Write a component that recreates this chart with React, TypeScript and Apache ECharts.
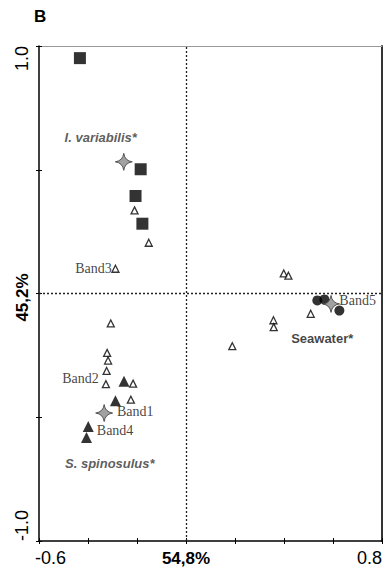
import React, { useEffect, useRef } from "react";
import * as echarts from "echarts";

// ---- data ----
const squares = [
  [-0.433, 0.951],
  [-0.185, 0.502],
  [-0.206, 0.394],
  [-0.178, 0.282],
];
const openTriangles = [
  [-0.21, 0.336],
  [-0.152, 0.205],
  [-0.288, 0.1],
  [-0.307, -0.121],
  [-0.322, -0.24],
  [-0.318, -0.271],
  [-0.324, -0.313],
  [-0.327, -0.366],
  [-0.216, -0.364],
  [-0.225, -0.429],
  [0.399, 0.081],
  [0.418, 0.072],
  [0.509, -0.082],
  [0.357, -0.108],
  [0.358, -0.136],
  [0.189, -0.213],
];
const filledTriangles = [
  [-0.253, -0.355],
  [-0.288, -0.433],
  [-0.399, -0.537],
  [-0.406, -0.582],
];
const circles = [
  [0.536, -0.028],
  [0.565, -0.024],
  [0.626, -0.069],
];
const centroids = [
  [-0.254, 0.532],
  [-0.334, -0.483],
  [0.592, -0.042],
];

const speciesLabels = ["I. variabilis*", "Seawater*", "S. spinosulus*"];
const speciesX = [-0.348, 0.556, -0.311];
const speciesY = [0.632, -0.182, -0.688];

const bandLabels = ["Band1", "Band2", "Band3", "Band4", "Band5"];
const bandX = [-0.282, -0.356, -0.303, -0.364, 0.626];
const bandY = [-0.478, -0.344, 0.101, -0.555, -0.028];
const bandSide = ["right", "left", "left", "right", "right"];

const xTickValues = [-0.6, 0, 0.8];
const xTickTexts = ["-0.6", "54,8%", "0.8"];
const yTickValues = [-1, 0, 1];
const yTickTexts = ["-1.0", "45,2%", "1.0"];
const panelLetter = "B";

const STAR = "path://M50,0 Q56,44 100,50 Q56,56 50,100 Q44,56 0,50 Q44,44 50,0 Z";
const SANS = "Liberation Sans, Arial, sans-serif";
const SERIF = "Liberation Serif, Times New Roman, serif";

export default function App() {
  const ref = useRef<HTMLDivElement>(null);
  useEffect(() => {
    document.body.style.margin = "0";
    const chart = echarts.init(ref.current!, null, { renderer: "svg" });
    const axisBase = {
      type: "value" as const,
      splitLine: { show: false },
      axisLabel: { show: false },
    };
    const option: any = {
      animation: false,
      backgroundColor: "#fff",
      grid: { left: 39, top: 46, right: 2, bottom: 32, containLabel: false },
      xAxis: [
        {
          ...axisBase,
          position: "bottom",
          min: -0.6,
          max: 0.8,
          interval: 0.2,
          axisLine: { onZero: false, lineStyle: { color: "#000", width: 1.5 } },
          axisTick: { show: true, inside: false, length: 3, lineStyle: { color: "#000", width: 1 } },
        },
        {
          ...axisBase,
          position: "bottom",
          min: -0.6,
          max: 0.8,
          interval: 0.2,
          axisLine: { show: false, onZero: false },
          axisTick: { show: true, inside: true, length: 3, lineStyle: { color: "#000", width: 1 } },
        },
        {
          ...axisBase,
          position: "top",
          min: -0.6,
          max: 0.8,
          axisLine: { onZero: false, lineStyle: { color: "#999", width: 1 } },
          axisTick: { show: false },
        },
      ],
      yAxis: [
        {
          ...axisBase,
          position: "left",
          min: -1,
          max: 1,
          interval: 0.5,
          axisLine: { onZero: false, lineStyle: { color: "#000", width: 1.5 } },
          axisTick: { show: true, inside: false, length: 3, lineStyle: { color: "#000", width: 1 } },
        },
        {
          ...axisBase,
          position: "left",
          min: -1,
          max: 1,
          interval: 0.5,
          axisLine: { show: false, onZero: false },
          axisTick: { show: true, inside: true, length: 3, lineStyle: { color: "#000", width: 1 } },
        },
        {
          ...axisBase,
          position: "right",
          min: -1,
          max: 1,
          axisLine: { onZero: false, lineStyle: { color: "#333", width: 2 } },
          axisTick: { show: false },
        },
      ],
      series: [
        {
          type: "scatter",
          name: "guides",
          data: [],
          silent: true,
          markLine: {
            silent: true,
            symbol: "none",
            label: { show: false },
            lineStyle: { type: [2, 2], color: "#222", width: 1.3 },
            data: [{ xAxis: 0 }, { yAxis: 0 }],
          },
        },
        {
          type: "scatter",
          name: "squares",
          symbol: "rect",
          symbolSize: 12,
          itemStyle: { color: "#000" },
          data: squares,
        },
        {
          type: "scatter",
          name: "openTriangles",
          symbol: "triangle",
          symbolSize: 7,
          itemStyle: { color: "#fff", borderColor: "#000", borderWidth: 1.3 },
          data: openTriangles,
        },
        {
          type: "scatter",
          name: "filledTriangles",
          symbol: "triangle",
          symbolSize: 11,
          itemStyle: { color: "#000" },
          data: filledTriangles,
        },
        {
          type: "scatter",
          name: "circles",
          symbol: "circle",
          symbolSize: 10,
          itemStyle: { color: "#000" },
          data: circles,
        },
        {
          type: "scatter",
          name: "centroids",
          symbol: STAR,
          symbolSize: 17,
          itemStyle: { color: "#8a8a8a", borderColor: "#3a3a3a", borderWidth: 1 },
          data: centroids,
        },
        {
          type: "scatter",
          name: "species",
          symbolSize: 0,
          silent: true,
          data: speciesLabels.map((t, i) => ({
            value: [speciesX[i], speciesY[i]],
            label: {
              show: true,
              position: "inside",
              formatter: t,
              fontFamily: SANS,
              fontSize: 13,
              fontWeight: "bold",
              fontStyle: i === 1 ? "normal" : "italic",
              color: i === 1 ? "#111" : "#333",
            },
          })),
        },
        {
          type: "scatter",
          name: "bands",
          symbolSize: 0,
          silent: true,
          data: bandLabels.map((t, i) => ({
            value: [bandX[i], bandY[i]],
            label: {
              show: true,
              position: bandSide[i],
              distance: 0,
              formatter: t,
              fontFamily: SERIF,
              fontSize: 14,
              color: "#111",
            },
          })),
        },
      ],
    };
    chart.setOption(option);

    const graphics: any[] = [
      {
        type: "text",
        x: 34,
        y: 16,
        style: {
          text: panelLetter,
          font: `bold 17px ${SANS}`,
          fill: "#000",
          textAlign: "left",
          textVerticalAlign: "middle",
        },
      },
    ];
    xTickValues.forEach((v, i) => {
      const px = chart.convertToPixel({ xAxisIndex: 0 }, v) as number;
      const align = i === 0 ? "left" : i === xTickValues.length - 1 ? "right" : "center";
      const isPct = xTickTexts[i].includes("%");
      graphics.push({
        type: "text",
        x: i === 0 ? px - 4 : px,
        y: 558,
        style: {
          text: xTickTexts[i],
          font: isPct ? `bold 17px ${SANS}` : `18px ${SANS}`,
          fill: "#000",
          textAlign: align,
          textVerticalAlign: "middle",
        },
      });
    });
    yTickValues.forEach((v, i) => {
      const py = chart.convertToPixel({ yAxisIndex: 0 }, v) as number;
      const align = i === 0 ? "left" : i === yTickValues.length - 1 ? "right" : "center";
      const isPct = yTickTexts[i].includes("%");
      graphics.push({
        type: "text",
        x: 22,
        y: isPct ? py + 4 : py,
        rotation: Math.PI / 2,
        style: {
          text: yTickTexts[i],
          font: isPct ? `bold 17px ${SANS}` : `18px ${SANS}`,
          fill: "#000",
          textAlign: align,
          textVerticalAlign: "middle",
        },
      });
    });
    chart.setOption({ graphic: graphics });

    return () => chart.dispose();
  }, []);
  return <div ref={ref} style={{ width: 384, height: 573 }} />;
}
